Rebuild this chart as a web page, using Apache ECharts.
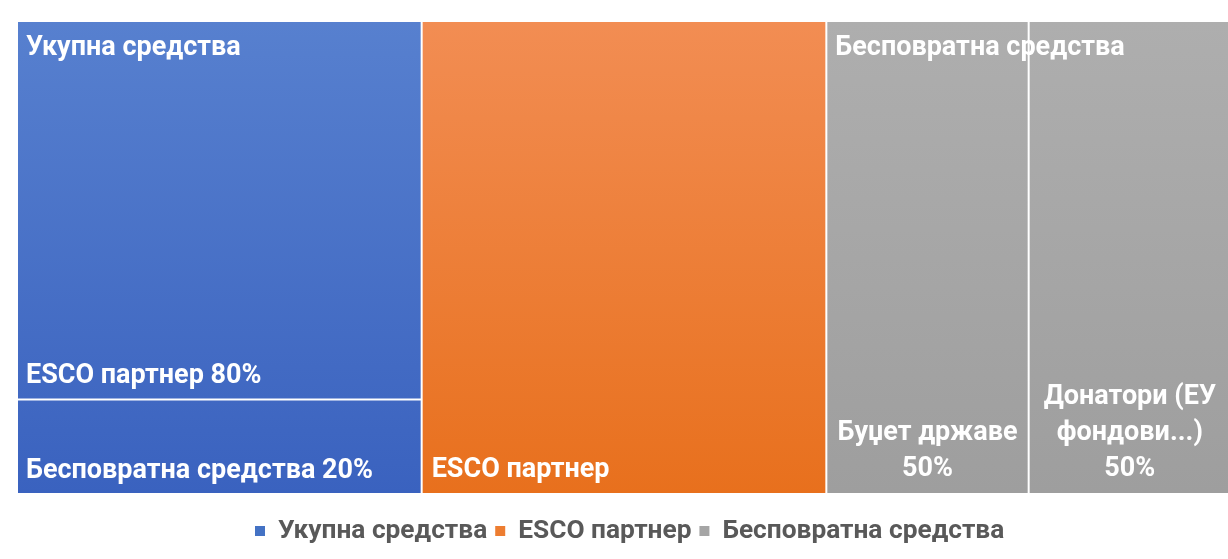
<!DOCTYPE html>
<html>
<head>
<meta charset="utf-8">
<script src="https://cdn.jsdelivr.net/npm/echarts@6/dist/echarts.min.js"></script>
<style>
  html, body { margin: 0; padding: 0; background: #ffffff; }
  #chart { width: 1228px; height: 559px; }
</style>
</head>
<body>
<div id="chart"></div>
<script>
// Funding structure: three top-level blocks, two of them split into shares.
const groupNames = ['Укупна средства', 'ESCO партнер', 'Бесповратна средства'];
const groupValues = [100, 100, 100];

const totalFundsParts = ['ESCO партнер', 'Бесповратна средства'];
const totalFundsShares = [80, 20];

const grantParts = ['Буџет државе', 'Донатори (ЕУ фондови...)'];
const grantShares = [50, 50];

// Styling
const FONT = 'Roboto';
const FONT_SIZE = 27;
const LEGEND_FONT_SIZE = 26.3;
const legendColors = ['#4472C4', '#ED7D31', '#A5A5A5'];
const blueShade = ['#5780CF', '#3A62BF'];
const orangeShade = ['#F28D53', '#E8701D'];
const grayShade = ['#AEAEAE', '#9E9E9E'];

function hexToRgb(h) {
  const n = parseInt(h.slice(1), 16);
  return [(n >> 16) & 255, (n >> 8) & 255, n & 255];
}
function mix(c0, c1, t) {
  const a = hexToRgb(c0), b = hexToRgb(c1);
  const r = a.map((v, i) => Math.round(v + (b[i] - v) * t));
  return 'rgb(' + r.join(',') + ')';
}
// vertical gradient covering the slice [t0, t1] of a block's shade
function shade(pair, t0, t1) {
  return new echarts.graphic.LinearGradient(0, 0, 0, 1, [
    { offset: 0, color: mix(pair[0], pair[1], t0) },
    { offset: 1, color: mix(pair[0], pair[1], t1) }
  ]);
}
// word wrap by character count, for narrow cells
function wrapWords(text, maxChars) {
  const lines = [];
  let line = '';
  text.split(' ').forEach((w) => {
    const next = line ? line + ' ' + w : w;
    if (next.length > maxChars && line) {
      lines.push(line);
      line = w;
    } else {
      line = next;
    }
  });
  if (line) lines.push(line);
  return lines.join('\n');
}

const labelBase = {
  show: true,
  color: '#ffffff',
  fontFamily: FONT,
  fontWeight: 'bold',
  fontSize: FONT_SIZE,
  padding: 0,
  textBorderWidth: 0
};

// Block 1: stacked vertically, each share gets its part of the gradient
let acc = 0;
const totalFundsChildren = totalFundsParts.map((name, i) => {
  const share = totalFundsShares[i];
  const t0 = acc / 100;
  acc += share;
  const t1 = acc / 100;
  return {
    name: name,
    value: groupValues[0] * share / 100,
    itemStyle: { color: shade(blueShade, t0, t1) },
    label: Object.assign({}, labelBase, {
      position: 'insideBottomLeft',
      distance: 8,
      lineHeight: 28,
      formatter: (p) => p.name + ' ' + share + '%'
    })
  };
});

// Block 3: side by side, wrapped labels centred at the bottom
const grantChildren = grantParts.map((name, i) => {
  const share = grantShares[i];
  return {
    name: name,
    value: groupValues[2] * share / 100,
    itemStyle: { color: shade(grayShade, 0, 1) },
    label: Object.assign({}, labelBase, {
      position: 'insideBottom',
      distance: 6,
      lineHeight: 36,
      overflow: 'none',
      formatter: (p) => wrapWords(p.name, 12) + '\n' + share + '%'
    })
  };
});

const cellData = [
  { name: groupNames[0], value: groupValues[0], children: totalFundsChildren },
  {
    name: groupNames[1],
    value: groupValues[1],
    itemStyle: { color: shade(orangeShade, 0, 1) },
    label: Object.assign({}, labelBase, {
      position: 'insideBottomLeft',
      distance: 9,
      lineHeight: 28
    })
  },
  { name: groupNames[2], value: groupValues[2], children: grantChildren }
];

// Block titles drawn at the top-left of the split blocks
const hasParts = [true, false, true];
const titleData = groupNames.map((name, i) => ({
  name: name,
  value: groupValues[i],
  label: Object.assign({}, labelBase, {
    show: hasParts[i],
    position: 'insideTopLeft',
    distance: 8,
    lineHeight: 36
  })
}));

const area = { left: 18, top: 22, width: 1212, height: 471 };

const chart = echarts.init(document.getElementById('chart'), null, { renderer: 'canvas' });
chart.setOption({
  animation: false,
  backgroundColor: '#ffffff',
  legend: {
    data: groupNames,
    left: 250,
    top: 511,
    icon: 'rect',
    itemWidth: 10,
    itemHeight: 10,
    itemGap: 8,
    selectedMode: false,
    textStyle: {
      color: '#595959',
      fontFamily: FONT,
      fontWeight: 'bold',
      fontSize: LEGEND_FONT_SIZE,
      lineHeight: 30,
      padding: [0, 0, 0, 8]
    }
  },
  series: [
    Object.assign({
      type: 'treemap',
      id: 'cells',
      z: 2,
      sort: false,
      roam: false,
      nodeClick: false,
      silent: true,
      breadcrumb: { show: false },
      upperLabel: { show: false },
      levels: [
        { itemStyle: { borderWidth: 0, gapWidth: 2, borderColor: '#ffffff' } },
        { itemStyle: { borderWidth: 0, gapWidth: 2, borderColor: '#ffffff' } },
        { itemStyle: { borderWidth: 0, gapWidth: 0 } }
      ],
      data: cellData
    }, area),
    Object.assign({
      type: 'treemap',
      id: 'titles',
      z: 5,
      sort: false,
      roam: false,
      nodeClick: false,
      silent: true,
      breadcrumb: { show: false },
      upperLabel: { show: false },
      itemStyle: { color: 'rgba(0,0,0,0)', borderColor: 'rgba(0,0,0,0)' },
      levels: [
        { itemStyle: { borderWidth: 0, gapWidth: 2, borderColor: 'rgba(0,0,0,0)' } },
        { itemStyle: { borderWidth: 0, gapWidth: 0, color: 'rgba(0,0,0,0)' } }
      ],
      data: titleData
    }, area),
    {
      // legend keys for the three blocks
      type: 'pie',
      id: 'keys',
      silent: true,
      radius: [0, 0],
      center: [-100, -100],
      label: { show: false },
      labelLine: { show: false },
      data: groupNames.map((name, i) => ({
        name: name,
        value: groupValues[i],
        itemStyle: { color: legendColors[i] }
      }))
    }
  ]
});
</script>
</body>
</html>
